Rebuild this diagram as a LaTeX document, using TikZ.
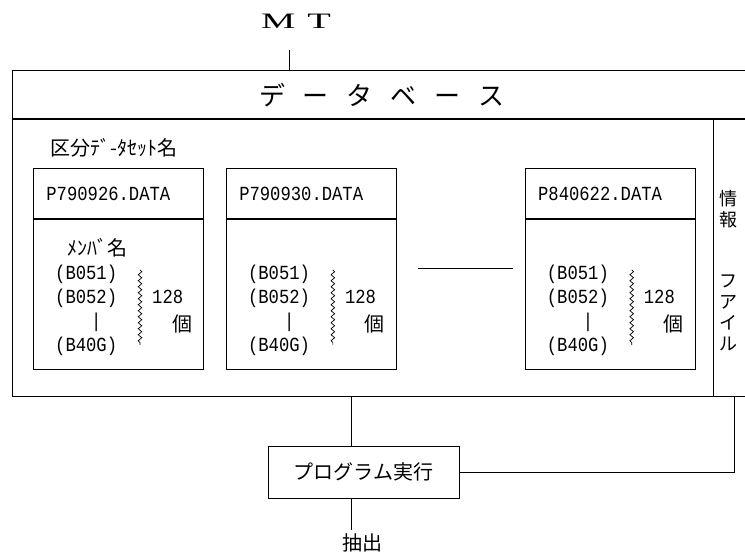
\documentclass[tikz,border=0pt]{standalone}
\usepackage{fontspec}
\usetikzlibrary{positioning,calc,decorations.pathmorphing}
\newfontfamily\jpfont{Noto Sans CJK JP}
\newfontfamily\prtfont[FakeStretch=0.86]{Liberation Mono}
\newfontfamily\mtfont[FakeStretch=1.75]{Liberation Serif}
\tikzset{
  ln/.style={line width=.85pt},
  frame/.style={draw, ln, inner sep=0pt},
  prt/.style={font=\prtfont\fontsize{20}{24}\selectfont},
  jp/.style={font=\jpfont\fontsize{20}{24}\selectfont},
  vjp/.style={font=\jpfont\fontsize{18}{21}\selectfont, align=center, inner sep=0pt},
  dsname/.style={frame, prt, anchor=north west, minimum width=170pt, minimum height=50pt, text width=144pt, inner xsep=13pt, align=left},
  dsbody/.style={frame, minimum width=170pt, minimum height=150pt},
  mlist/.style={prt, inner sep=0pt, anchor=north west, align=left},
  wave/.style={line width=.7pt, decorate, decoration={snake, amplitude=1.8pt, segment length=6pt}},
}
\begin{document}
\begin{tikzpicture}[x=1pt, y=-1pt]
  \useasboundingbox (0,0) rectangle (745,558);
  \clip (0,0) rectangle (745,558);
  % MT and the database frame
  \node[font=\mtfont\fontsize{22}{24}\selectfont] (mt) at (296,21) {M\hspace{12pt}T};
  \node[frame, anchor=north west, minimum width=770pt, minimum height=48pt] (dbh) at (12,70) {};
  \node[frame, anchor=north, minimum width=770pt, minimum height=277pt] (db) at (dbh.south) {};
  \node[font=\jpfont\fontsize{26}{30}\selectfont] (dbt) at (382,95) {デ\kern18ptー\kern18ptタ\kern18ptベ\kern18ptー\kern18ptス};
  \draw[ln] ([xshift=-7pt]mt.south) ++(0,18) -- ([xshift=-7pt]mt.south |- dbh.north);
  \node[jp, anchor=west] (dsl) at (47,148) {区分ﾃﾞ-ﾀｾｯﾄ名};
  % data sets
  \node[dsname] (h1) at (33,168) {P790926.DATA};
  \node[dsbody, below=0pt of h1] (b1) {};
  \node[dsname, right=22pt of h1] (h2) {P790930.DATA};
  \node[dsbody, below=0pt of h2] (b2) {};
  \node[dsname, right=128pt of h2] (h3) {P840622.DATA};
  \node[dsbody, below=0pt of h3] (b3) {};
  \node[jp] (mh) at ($(b1.north west)+(64,29)$) {ﾒﾝﾊﾞ名};
  \foreach \n in {1,2,3}{
    \node[mlist] (l\n) at ($(b\n.north west)+(22,46)$) {(B051)\\(B052)\\\phantom{(B0}\hspace{5pt}|\\(B40G)};
    \draw[wave] ($(b\n.north west)+(107,51)$) -- ($(b\n.north west)+(107,126)$);
    \node[prt, anchor=west, inner sep=0pt] (k\n) at ($(b\n.north west)+(119,78)$) {128};
    \node[jp] (u\n) at ($(b\n.north west)+(149,105)$) {個};
  }
  \draw[ln] ($(b2.east)+(21,-26)$) -- ($(b3.west)+(-12,-26)$);
  % info file column
  \coordinate (sep) at (713,118);
  \draw[ln] (sep) -- (sep |- db.south);
  \node[vjp] (inf1) at (728,209) {情\\報};
  \node[vjp] (inf2) at (728,313) {フ\\ア\\イ\\ル};
  % program run
  \node[frame, jp, minimum width=191pt, minimum height=52pt] (prog) at (363.5,472) {プログラム実行};
  \node[jp] (out) at (362,543) {抽出};
  \draw[ln] ([xshift=-12pt]prog.north |- db.south) -- ([xshift=-12pt]prog.north);
  \draw[ln] ([xshift=-12pt]prog.south) -- ([xshift=-12pt]prog.south |- out.north);
  \draw[ln] (prog.east) -| ([xshift=21pt]sep |- db.south);
\end{tikzpicture}
\end{document}
